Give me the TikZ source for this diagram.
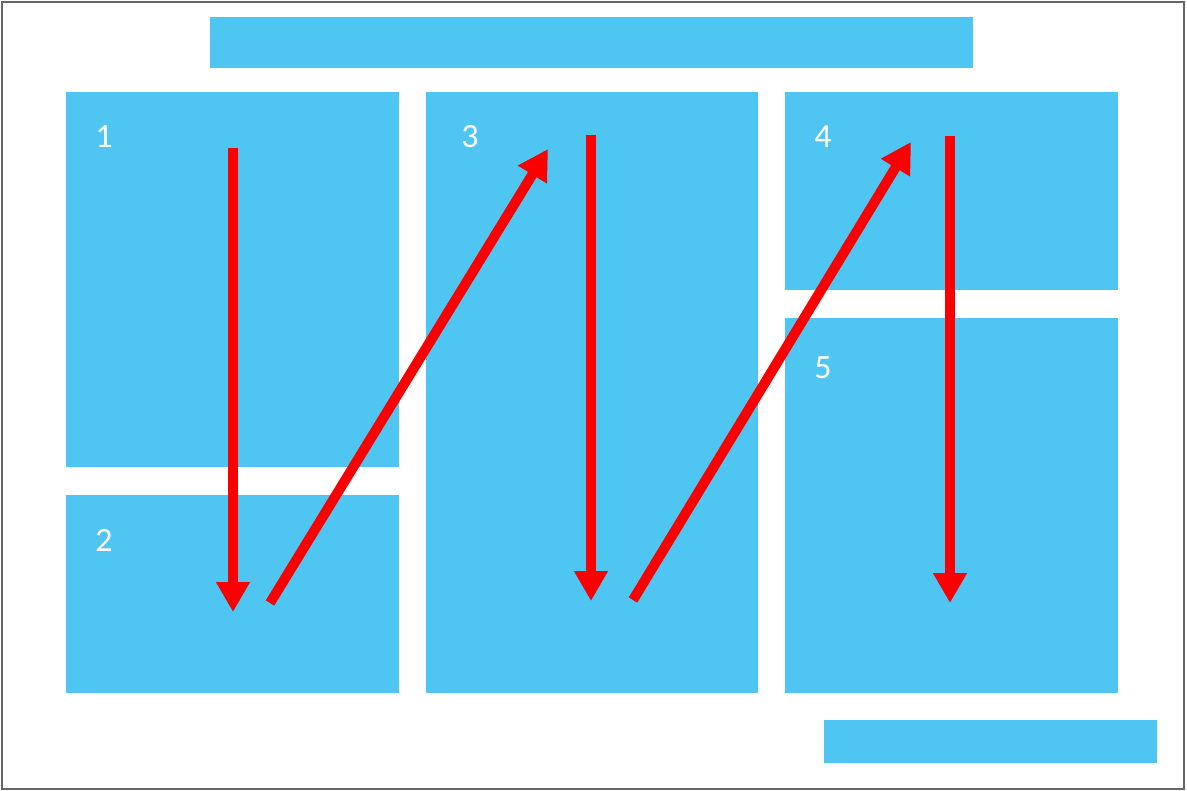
\documentclass[tikz,border=0pt]{standalone}
\usepackage{fontspec}
\setmainfont{Carlito}
\usetikzlibrary{arrows.meta}
\definecolor{panel}{RGB}{79,198,242}
\definecolor{arrowred}{RGB}{250,0,0}
\tikzset{
  panelbox/.style={fill=panel, draw=none, inner sep=0pt, outer sep=0pt},
  numlabel/.style={text=white, font=\fontsize{34}{34}\selectfont, inner sep=0pt, anchor=center},
  flow/.style={draw=arrowred, line width=10pt, line cap=butt, -{Triangle[width=32pt,length=30pt]}},
}
\begin{document}
\begin{tikzpicture}[x=1pt,y=-1pt]
\useasboundingbox (0,0) rectangle (1187,791);
\draw[draw=gray!80!black, line width=2pt] (1.5,2.5) rectangle (1183.5,789);
% panels
\path[panelbox] (210,17) rectangle (973,68);
\path[panelbox] (66,92) rectangle (399,467);
\path[panelbox] (66,495) rectangle (399,693);
\path[panelbox] (426,92) rectangle (758,693);
\path[panelbox] (785,92) rectangle (1118,290);
\path[panelbox] (785,318) rectangle (1118,693);
\path[panelbox] (824,720) rectangle (1157,763);
% labels
\node[numlabel] (l1) at (104,137) {1};
\node[numlabel] (l2) at (104,540) {2};
\node[numlabel] (l3) at (470,137) {3};
\node[numlabel] (l4) at (823,137) {4};
\node[numlabel] (l5) at (823,368) {5};
% arrow endpoints
\coordinate (a1s) at (233,148);
\coordinate (a1e) at (233,612);
\coordinate (a2s) at (270,603);
\coordinate (a2e) at (548,149);
\coordinate (a3s) at (591,135);
\coordinate (a3e) at (591,601);
\coordinate (a4s) at (633,600);
\coordinate (a4e) at (911,142);
\coordinate (a5s) at (950,136);
\coordinate (a5e) at (950,603);
\draw[flow] (a1s) -- (a1e);
\draw[flow] (a2s) -- (a2e);
\draw[flow] (a3s) -- (a3e);
\draw[flow] (a4s) -- (a4e);
\draw[flow] (a5s) -- (a5e);
\end{tikzpicture}
\end{document}
